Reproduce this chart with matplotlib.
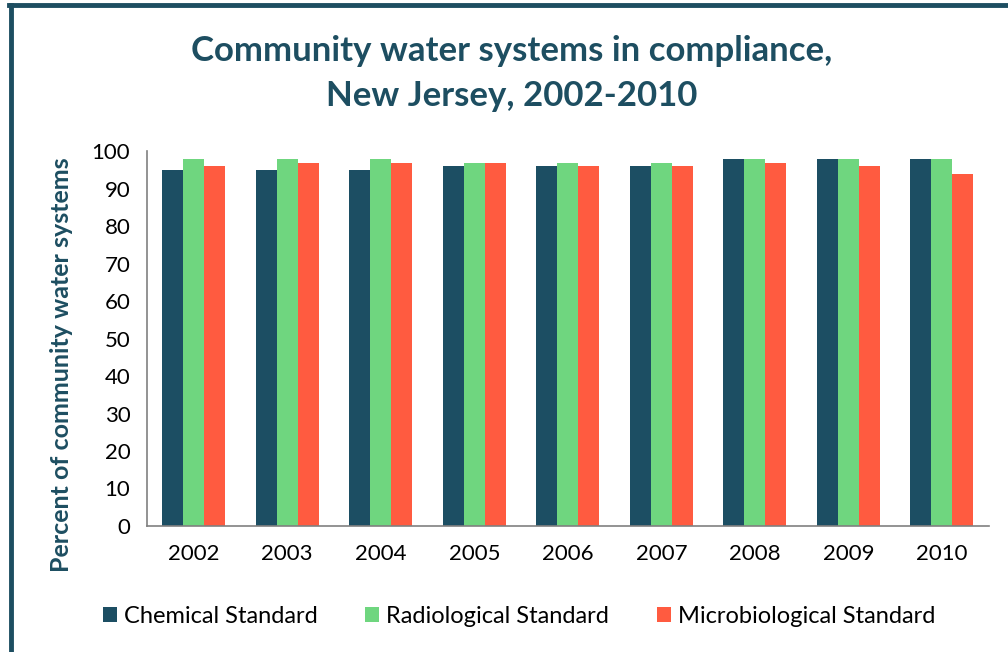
import numpy as np
import matplotlib
matplotlib.use("Agg")
import matplotlib.pyplot as plt
from matplotlib.lines import Line2D

years = ["2002", "2003", "2004", "2005", "2006", "2007", "2008", "2009", "2010"]
chemical = [95, 95, 95, 96, 96, 96, 98, 98, 98]
radiological = [98, 98, 98, 97, 97, 97, 98, 98, 98]
microbiological = [96, 97, 97, 97, 96, 96, 97, 96, 94]
series_names = ["Chemical Standard", "Radiological Standard", "Microbiological Standard"]

teal = "#1D4E61"
colors = ["#1C4E63", "#6FD67F", "#FF5B40"]

plt.rcParams["font.family"] = ["Lato", "DejaVu Sans"]

fig = plt.figure(figsize=(10.08, 6.52), dpi=100)
ax = fig.add_axes([0.1458, 0.1933, 0.835, 0.5747])

x = np.arange(len(years))
w = 0.224
for i, (vals, name) in enumerate(zip([chemical, radiological, microbiological], series_names)):
    ax.bar(x + (i - 1) * w, vals, w, color=colors[i], label=name)

ax.set_xlim(-0.5, len(years) - 0.5)
ax.set_ylim(0, 100)
ax.set_yticks(range(0, 101, 10))
ax.set_xticks(x)
ax.set_xticklabels(years)
ax.tick_params(axis="both", length=0, labelsize=16, colors="black")
ax.tick_params(axis="x", pad=13)
ax.tick_params(axis="y", pad=12)
for s in ["top", "right"]:
    ax.spines[s].set_visible(False)
for s in ["left", "bottom"]:
    ax.spines[s].set_color("#808080")
    ax.spines[s].set_linewidth(1.2)

ax.set_ylabel("Percent of community water systems", fontsize=18, fontweight="bold",
              color=teal)
ax.yaxis.set_label_coords(-0.088, 0.43)

fig.text(0.508, 0.887, "Community water systems in compliance,\nNew Jersey, 2002-2010",
         ha="center", va="center", fontsize=25, fontweight="bold", color=teal,
         linespacing=1.5)

leg = fig.legend(loc="center", bbox_to_anchor=(0.515, 0.054), ncol=3, frameon=False,
                 fontsize=17, handlelength=0.6, handleheight=0.6, handletextpad=0.3,
                 columnspacing=2.0)

# outer frame (left and top edges visible)
fig.add_artist(Line2D([0.011, 0.011], [0, 0.993], transform=fig.transFigure,
                      color=teal, linewidth=3.5))
fig.add_artist(Line2D([0.009, 1.0], [0.993, 0.993], transform=fig.transFigure,
                      color=teal, linewidth=3.5))

fig.savefig("out.png", dpi=100)
